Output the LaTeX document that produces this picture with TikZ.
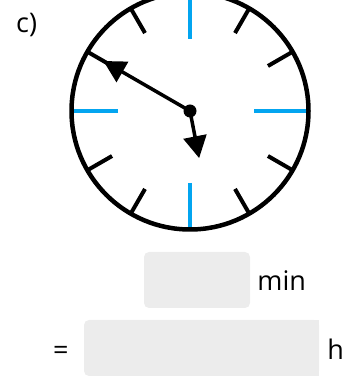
\documentclass[tikz,border=0pt]{standalone}
\usepackage{fontspec}
\setmainfont{Open Sans}
\usetikzlibrary{arrows.meta,positioning,calc}
\definecolor{tickblue}{RGB}{3,165,240}
\definecolor{boxgray}{RGB}{236,236,236}
\tikzset{
    hand/.style={line width=3.5pt, -{Triangle[length=22pt,width=23pt]}},
    tick/.style={line width=4pt},
    answerbox/.style={fill=boxgray, rounded corners=5pt, minimum height=56pt, inner sep=0pt},
    label/.style={font=\fontsize{27}{30}\selectfont, inner sep=0pt},
}
\begin{document}
\begin{tikzpicture}[x=1pt,y=1pt]
    \useasboundingbox (0,0) rectangle (350,388);
    \clip (0,0) rectangle (350,388);
    \coordinate (c) at (190,277);
    % ticks
    \foreach \a/\r in {0/64,90/72,180/72,270/72}
        \draw[tick, tickblue] ($(c)+(\a:\r)$) -- ($(c)+(\a:119)$);
    \foreach \a in {30,60,120,150,210,240,300,330}
        \draw[tick, black] ($(c)+(\a:90)$) -- ($(c)+(\a:119)$);
    \draw[black, line width=4.5pt] (c) circle (118.5);
    % hands
    \draw[hand] (c) -- ++(150:100);
    \draw[hand] (c) -- ++(-79:48);
    \fill[black] (c) circle (6.5);
    \node[label, anchor=base west] (part) at (16,355) {c)};
    % answer boxes
    \node[answerbox, minimum width=106pt] (minbox) at (197,108) {};
    \node[answerbox, minimum width=235pt] (hbox) at (201.5,40) {};
    \fill[boxgray] ([xshift=-8pt]hbox.north east) rectangle (hbox.south east);
    \node[label, anchor=base west] (minlabel) at ([xshift=7pt,yshift=-11pt]minbox.east) {min};
    \node[label, anchor=base west] (hlabel) at ([xshift=8pt,yshift=-12pt]hbox.east) {h};
    \node[label, anchor=base] (equals) at ([xshift=-23pt,yshift=-12pt]hbox.west) {=};
\end{tikzpicture}
\end{document}
